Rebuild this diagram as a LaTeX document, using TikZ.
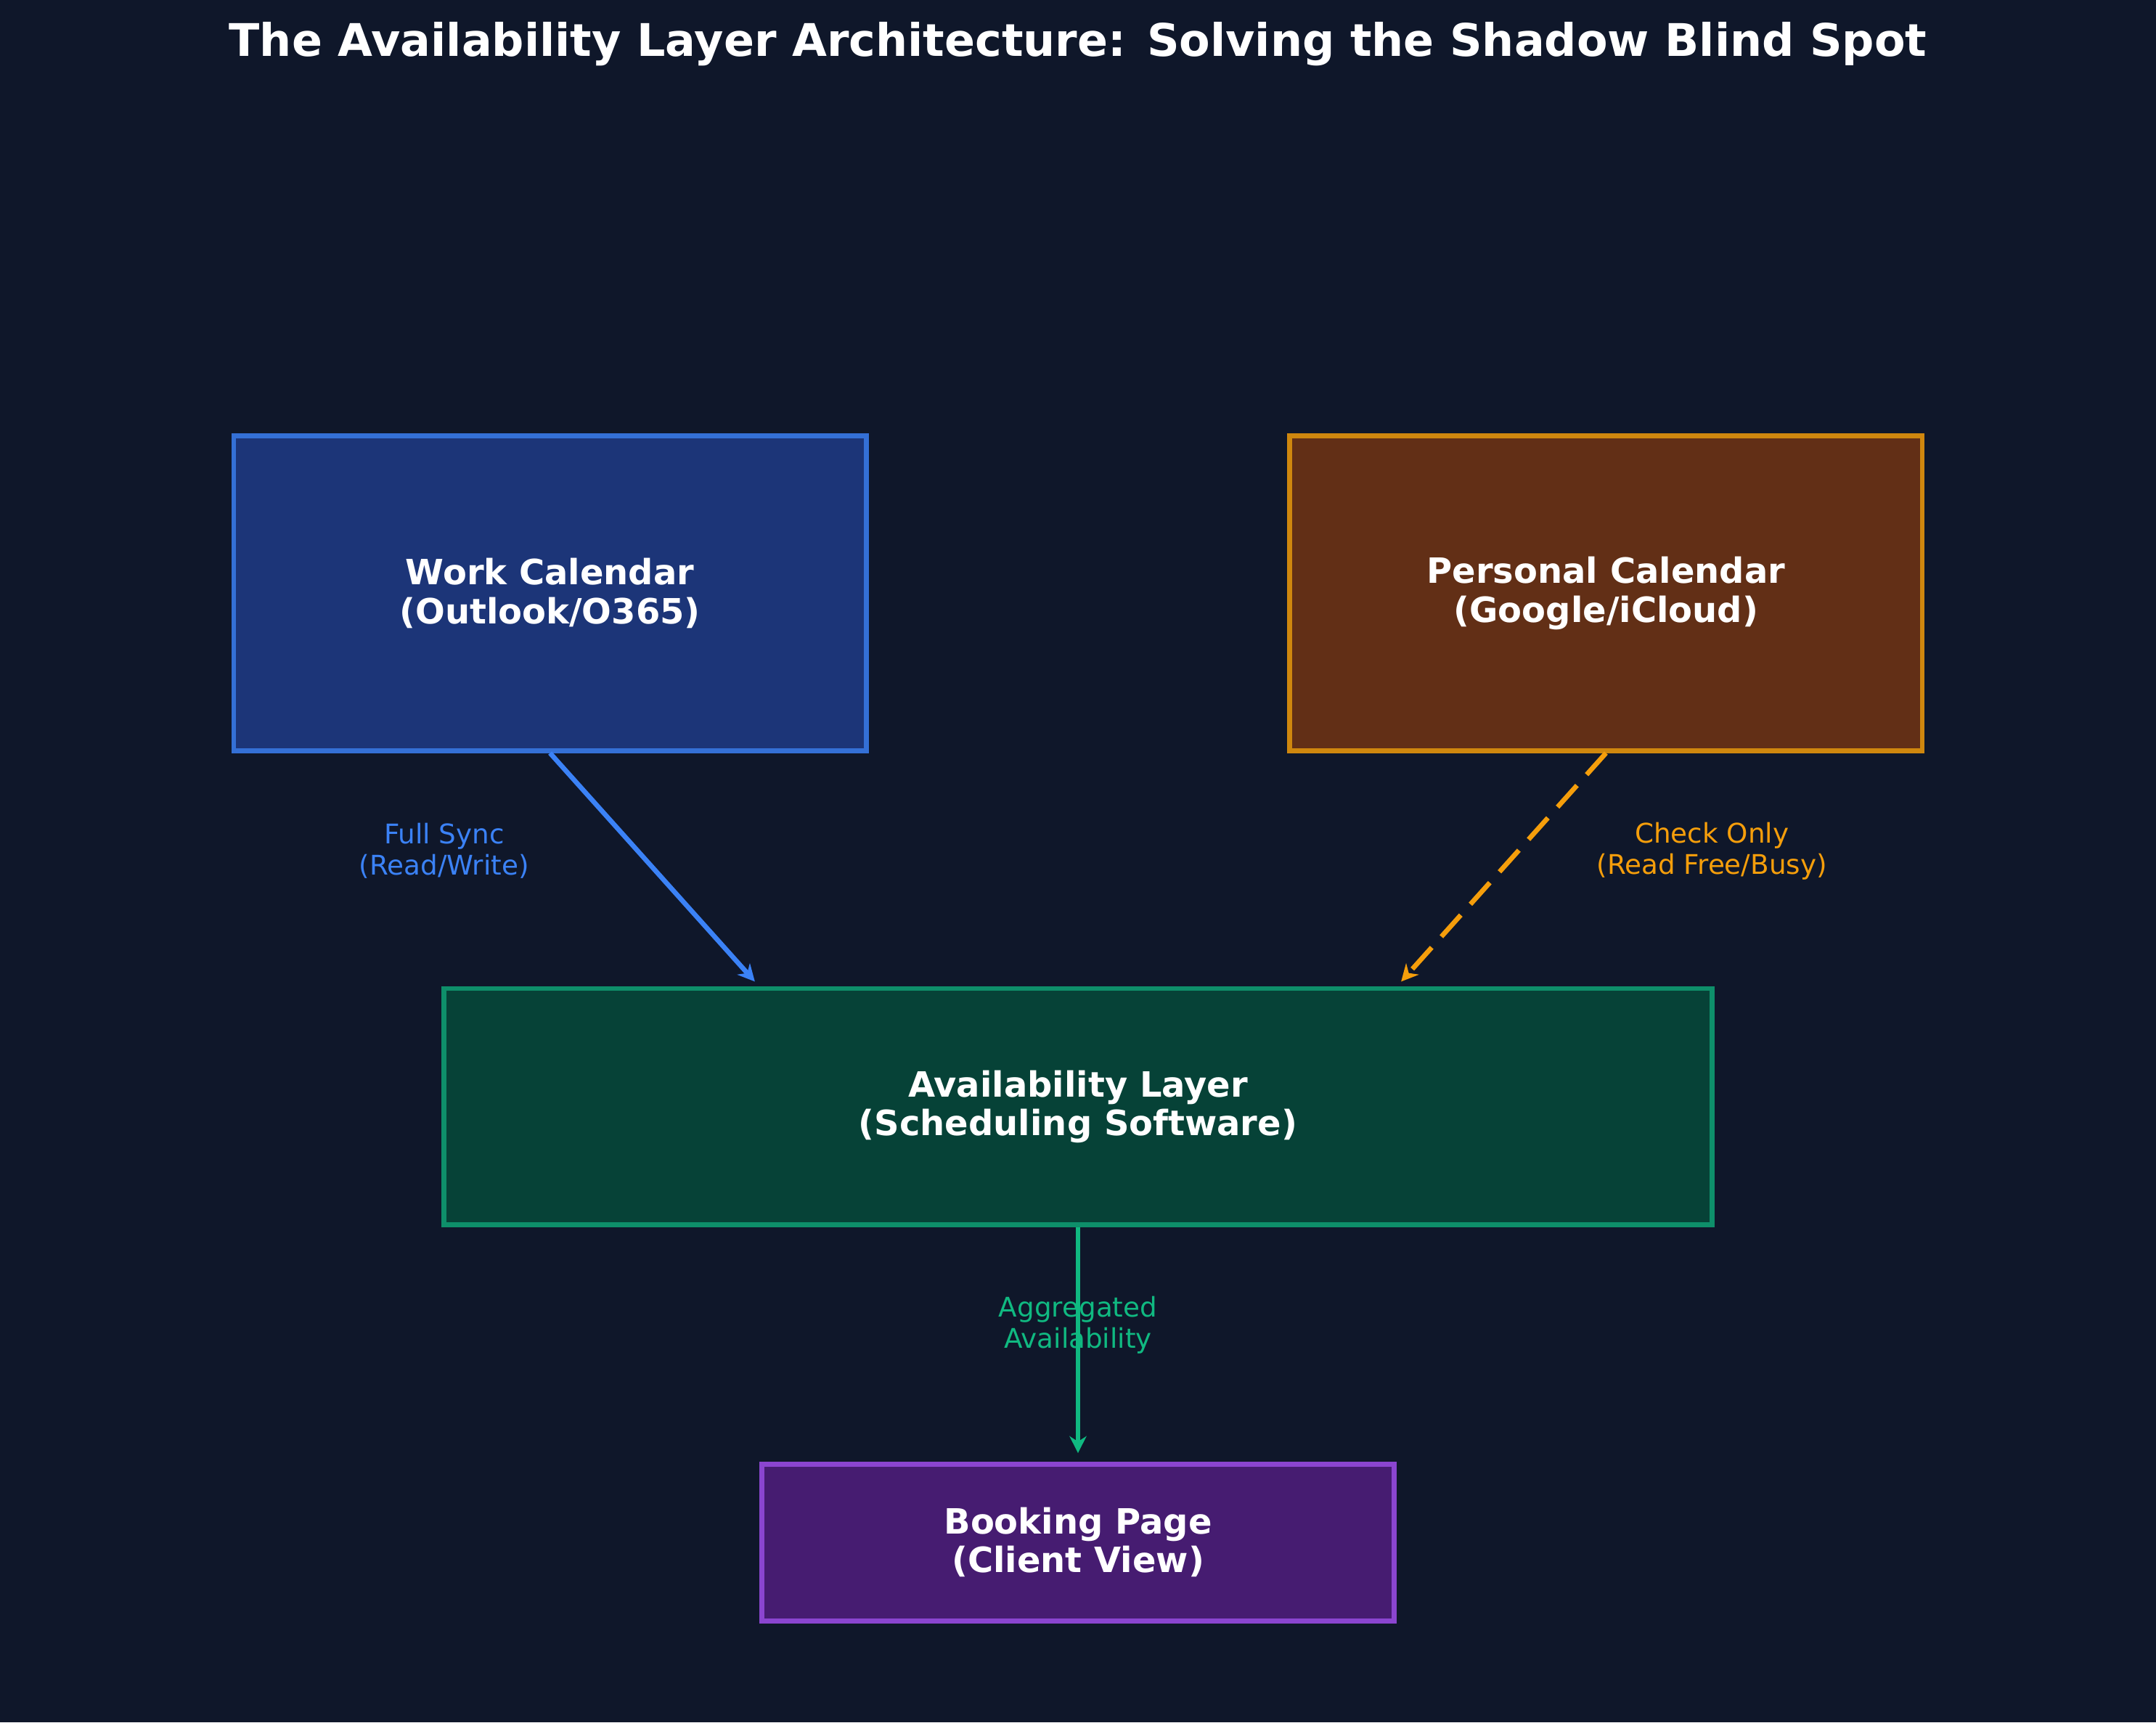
\documentclass[tikz,border=0pt]{standalone}
\usepackage{fontspec}
\setmainfont{DejaVu Sans}
\usetikzlibrary{arrows.meta}
\begin{document}
\begin{tikzpicture}[x=0.01cm,y=-0.01cm,
 box/.style={draw,line width=1pt,minimum height=#1,align=center,font=\fontsize{7.2}{8}\selectfont\bfseries,text=white,inner sep=0pt},
 lbl/.style={align=center,font=\fontsize{5.6}{6.4}\selectfont},
 arr/.style={line width=1pt,-{Stealth[length=3.5pt,width=3.5pt]}}]
\definecolor{bg}{HTML}{0F172A}
\definecolor{wf}{HTML}{1C3578}\definecolor{wd}{HTML}{3470D6}\definecolor{wa}{HTML}{3B82F6}
\definecolor{pf}{HTML}{622F16}\definecolor{pd}{HTML}{CF870E}\definecolor{pa}{HTML}{F59E0B}
\definecolor{gf}{HTML}{064237}\definecolor{gd}{HTML}{0E8F6A}\definecolor{ga}{HTML}{10B981}
\definecolor{vf}{HTML}{461C71}\definecolor{vd}{HTML}{8B45D0}
\fill[bg] (0,0) rectangle (1568,1253);
\useasboundingbox (0,0) rectangle (1568,1253);
\node[font=\fontsize{9.3}{11}\selectfont\bfseries,text=white] (t) at (784,32) {The Availability Layer Architecture: Solving the Shadow Blind Spot};
\node[box=229*0.01cm,minimum width=460*0.01cm,fill=wf,draw=wd] (w) at (400,431.5) {Work Calendar\\(Outlook/O365)};
\node[box=229*0.01cm,minimum width=460*0.01cm,fill=pf,draw=pd] (p) at (1168,431.5) {Personal Calendar\\(Google/iCloud)};
\node[box=172*0.01cm,minimum width=922*0.01cm,fill=gf,draw=gd] (a) at (784,805) {Availability Layer\\(Scheduling Software)};
\node[box=114*0.01cm,minimum width=460*0.01cm,fill=vf,draw=vd] (b) at (784,1122) {Booking Page\\(Client View)};
\coordinate (a1) at (549,714); \coordinate (a2) at (1019,714); \coordinate (a3) at (784,1057);
\draw[arr,wa] (w.south) -- (a1);
\draw[arr,pa,dash pattern=on 6pt off 3pt] (p.south) -- (a2);
\draw[arr,ga] (a.south) -- (a3);
\node[lbl,text=wa] (l1) at (323,619) {Full Sync\\(Read/Write)};
\node[lbl,text=pa] (l2) at (1245,619) {Check Only\\(Read Free/Busy)};
\node[lbl,text=ga] (l3) at (784,964) {Aggregated\\Availability};
\end{tikzpicture}
\end{document}
